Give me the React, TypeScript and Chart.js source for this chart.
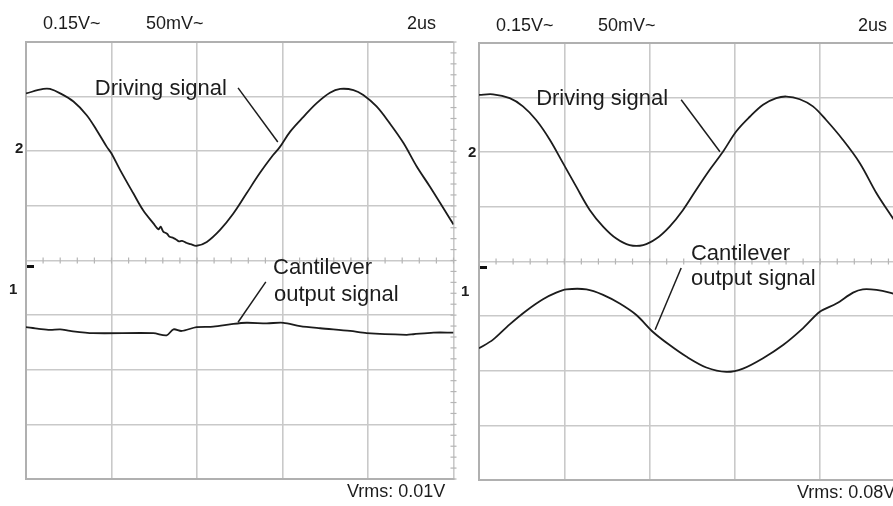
import React, { useEffect, useRef } from "react";
import { Chart, registerables } from "chart.js";

Chart.register(...registerables);

// ---------- Data (time in µs, vertical position in screen divisions; centre line = 0) ----------
// Left screenshot
const leftDriveT = [0, 0.405, 0.56, 0.8, 1.11, 1.42, 1.65, 1.89, 2.0, 2.2, 2.51, 2.74, 2.98, 3.1, 3.15, 3.21, 3.3, 3.35, 3.45, 3.52, 3.58, 3.65, 3.76, 3.85, 3.99, 4.23, 4.54, 4.85, 5.16, 5.47, 5.78, 5.94, 6.18, 6.49, 6.8, 7.11, 7.35, 7.66, 7.89, 8.2, 8.51, 8.83, 9.14, 9.45, 9.84, 10];
const leftDriveY = [3.06, 3.14, 3.14, 3.06, 2.91, 2.66, 2.39, 2.08, 1.96, 1.66, 1.23, 0.92, 0.68, 0.57, 0.62, 0.53, 0.49, 0.44, 0.41, 0.38, 0.35, 0.36, 0.32, 0.3, 0.27, 0.34, 0.56, 0.86, 1.23, 1.6, 1.93, 2.08, 2.36, 2.63, 2.88, 3.07, 3.14, 3.12, 3.03, 2.82, 2.51, 2.15, 1.72, 1.35, 0.86, 0.66];
const leftCantT = [0, 0.3, 0.56, 0.8, 1.03, 1.57, 2.98, 3.29, 3.45, 3.64, 3.99, 4.38, 4.85, 5.16, 5.63, 6.02, 6.41, 6.88, 7.58, 7.97, 8.9, 9.06, 9.53, 10];
const leftCantY = [-1.22, -1.25, -1.27, -1.26, -1.29, -1.33, -1.33, -1.37, -1.26, -1.29, -1.22, -1.21, -1.16, -1.14, -1.15, -1.14, -1.2, -1.24, -1.29, -1.33, -1.36, -1.35, -1.32, -1.32];

// Right screenshot
const rightDriveT = [0, 0.33, 0.72, 1.03, 1.34, 1.66, 1.97, 2.28, 2.6, 2.91, 3.22, 3.53, 3.85, 4.16, 4.47, 4.78, 5.09, 5.41, 5.72, 6.03, 6.35, 6.66, 6.97, 7.21, 7.52, 7.83, 8.14, 8.53, 8.93, 9.32, 9.63, 10];
const rightDriveY = [3.05, 3.06, 2.99, 2.84, 2.59, 2.23, 1.8, 1.37, 0.94, 0.64, 0.42, 0.3, 0.3, 0.42, 0.64, 0.94, 1.31, 1.68, 2.01, 2.38, 2.65, 2.87, 2.99, 3.02, 2.97, 2.84, 2.59, 2.23, 1.8, 1.25, 0.88, 0.45];
const rightCantT = [0, 0.33, 0.72, 1.11, 1.5, 1.81, 2.05, 2.52, 2.91, 3.3, 3.69, 4.08, 4.47, 4.86, 5.33, 5.8, 6.19, 6.66, 7.13, 7.6, 7.99, 8.38, 8.77, 9.0, 9.32, 9.63, 10];
const rightCantY = [-1.59, -1.43, -1.15, -0.9, -0.69, -0.57, -0.51, -0.51, -0.61, -0.77, -0.98, -1.29, -1.53, -1.74, -1.94, -2.02, -1.96, -1.77, -1.53, -1.22, -0.92, -0.77, -0.57, -0.51, -0.52, -0.57, -0.66];

// Scope labels
const channel1Scale = "0.15V~";
const channel2Scale = "50mV~";
const timeBase = "2us";
const leftVrms = "Vrms: 0.01V";
const rightVrms = "Vrms: 0.08V";
const driveLabel = "Driving signal";
const cantLabel1 = "Cantilever";
const cantLabel2 = "output signal";

// Axis ranges (divisions): 5 time divisions of 2 µs, 8 vertical divisions
const timeTicks = [0, 2, 4, 6, 8, 10];
const divTicks = [-4, -3, -2, -1, 0, 1, 2, 3, 4];

const FONT = '"Liberation Sans", Arial, Helvetica, sans-serif';
const GRID = "#c9c9c9";
const FRAME = "#b0b0b0";
const INK = "#1c1c1c";

const zip = (t: number[], v: number[]) => t.map((x, i) => ({ x, y: v[i] }));

const decorPlugin = {
  id: "scopeDecor",
  beforeDatasetsDraw(chart: any, _a: any, opts: any) {
    const { ctx, scales } = chart;
    const x = scales.x, y = scales.y;
    ctx.save();
    ctx.strokeStyle = "#b5b5b5";
    ctx.lineWidth = 1.2;
    const y0 = y.getPixelForValue(0);
    for (let i = 0; i <= 25; i++) {
      const px = x.getPixelForValue(i * 0.4);
      ctx.beginPath();
      ctx.moveTo(px, y0 - 3);
      ctx.lineTo(px, y0 + 3);
      ctx.stroke();
    }
    const xc = x.getPixelForValue(10);
    for (let i = 0; i <= 40; i++) {
      const py = y.getPixelForValue(-4 + i * 0.2);
      ctx.beginPath();
      ctx.moveTo(xc - 3, py);
      ctx.lineTo(xc + 3, py);
      ctx.stroke();
    }
    // channel marker dash
    ctx.fillStyle = "#111";
    const my = y.getPixelForValue(opts.markerDiv);
    ctx.fillRect(chart.chartArea.left + 1, my - 1.5, 7, 3);
    ctx.restore();
  },
  afterDraw(chart: any, _a: any, opts: any) {
    const { ctx, scales } = chart;
    const x = scales.x, y = scales.y;
    ctx.save();
    ctx.fillStyle = INK;
    ctx.textBaseline = "middle";
    ctx.textAlign = "left";
    for (const t of opts.texts) {
      ctx.font = `${t.bold ? "bold " : ""}${t.size}px ${FONT}`;
      ctx.fillText(t.text, t.x, t.y);
    }
    ctx.font = `22px ${FONT}`;
    for (const n of opts.notes) {
      ctx.fillText(n.text, x.getPixelForValue(n.t), y.getPixelForValue(n.v));
    }
    ctx.strokeStyle = INK;
    ctx.lineWidth = 1.5;
    for (const l of opts.leaders) {
      ctx.beginPath();
      ctx.moveTo(x.getPixelForValue(l.t1), y.getPixelForValue(l.v1));
      ctx.lineTo(x.getPixelForValue(l.t2), y.getPixelForValue(l.v2));
      ctx.stroke();
    }
    ctx.restore();
  },
};

type PanelProps = {
  left: number;
  width: number;
  padding: { left: number; top: number; right: number; bottom: number };
  drive: { x: number; y: number }[];
  cant: { x: number; y: number }[];
  deco: any;
};

function Panel({ left, width, padding, drive, cant, deco }: PanelProps) {
  const ref = useRef<HTMLCanvasElement>(null);
  useEffect(() => {
    if (!ref.current) return;
    const gridColor = (c: any) => {
      const v = c.tick?.value;
      return v === 4 ? FRAME : GRID;
    };
    const gridWidth = (c: any) => (c.tick?.value === 4 ? 2 : 1.6);
    const chart = new Chart(ref.current, {
      type: "line",
      data: {
        datasets: [
          { data: drive, borderColor: INK, borderWidth: 1.8, pointRadius: 0, tension: 0.35, fill: false },
          { data: cant, borderColor: INK, borderWidth: 1.8, pointRadius: 0, tension: 0.3, fill: false },
        ],
      },
      options: {
        responsive: false,
        animation: false,
        devicePixelRatio: 1,
        layout: { padding },
        plugins: { legend: { display: false }, tooltip: { enabled: false }, scopeDecor: deco } as any,
        scales: {
          x: {
            type: "linear",
            min: timeTicks[0],
            max: timeTicks[timeTicks.length - 1],
            afterBuildTicks: (s: any) => { s.ticks = timeTicks.map((v) => ({ value: v })); },
            ticks: { display: false },
            grid: { color: GRID, lineWidth: 1.6, drawTicks: false },
            border: { display: true, color: FRAME, width: 2 },
          },
          y: {
            type: "linear",
            min: divTicks[0],
            max: divTicks[divTicks.length - 1],
            afterBuildTicks: (s: any) => { s.ticks = divTicks.map((v) => ({ value: v })); },
            ticks: { display: false },
            grid: { color: gridColor, lineWidth: gridWidth, drawTicks: false },
            border: { display: true, color: FRAME, width: 2 },
          },
        },
      },
      plugins: [decorPlugin as any],
    });
    return () => chart.destroy();
  }, []);
  return (
    <canvas
      ref={ref}
      width={width}
      height={506}
      style={{ position: "absolute", left, top: 0, width, height: 506 }}
    />
  );
}

export default function App() {
  const leftDeco = {
    markerDiv: -0.11,
    texts: [
      { text: channel1Scale, x: 43, y: 24, size: 18 },
      { text: channel2Scale, x: 146, y: 24, size: 18 },
      { text: timeBase, x: 407, y: 24, size: 18 },
      { text: "2", x: 15, y: 148.5, size: 15, bold: true },
      { text: "1", x: 9, y: 290, size: 15, bold: true },
      { text: leftVrms, x: 347, y: 492, size: 18 },
    ],
    notes: [
      { text: driveLabel, t: 1.61, v: 3.14 },
      { text: cantLabel1, t: 5.78, v: -0.14 },
      { text: cantLabel2, t: 5.8, v: -0.63 },
    ],
    leaders: [
      { t1: 4.96, v1: 3.16, t2: 5.89, v2: 2.17 },
      { t1: 5.61, v1: -0.39, t2: 4.96, v2: -1.13 },
    ],
  };
  const rightDeco = {
    markerDiv: -0.11,
    texts: [
      { text: channel1Scale, x: 53, y: 26.5, size: 18 },
      { text: channel2Scale, x: 155, y: 26.5, size: 18 },
      { text: timeBase, x: 415, y: 26.5, size: 18 },
      { text: "2", x: 25, y: 153, size: 15, bold: true },
      { text: "1", x: 18, y: 292, size: 15, bold: true },
      { text: rightVrms, x: 354, y: 493, size: 18 },
    ],
    notes: [
      { text: driveLabel, t: 1.34, v: 2.98 },
      { text: cantLabel1, t: 4.97, v: 0.14 },
      { text: cantLabel2, t: 4.97, v: -0.32 },
    ],
    leaders: [
      { t1: 4.74, v1: 2.96, t2: 5.65, v2: 2.01 },
      { t1: 4.74, v1: -0.12, t2: 4.13, v2: -1.25 },
    ],
  };
  return (
    <div style={{ position: "absolute", left: 0, top: 0, width: 893, height: 506, overflow: "hidden", background: "#fff" }}>
      <Panel
        left={0}
        width={458}
        padding={{ left: 26, top: 42, right: 4.5, bottom: 27 }}
        drive={zip(leftDriveT, leftDriveY)}
        cant={zip(leftCantT, leftCantY)}
        deco={leftDeco}
      />
      <Panel
        left={443}
        width={470}
        padding={{ left: 36, top: 43, right: 7.5, bottom: 26 }}
        drive={zip(rightDriveT, rightDriveY)}
        cant={zip(rightCantT, rightCantY)}
        deco={rightDeco}
      />
    </div>
  );
}
